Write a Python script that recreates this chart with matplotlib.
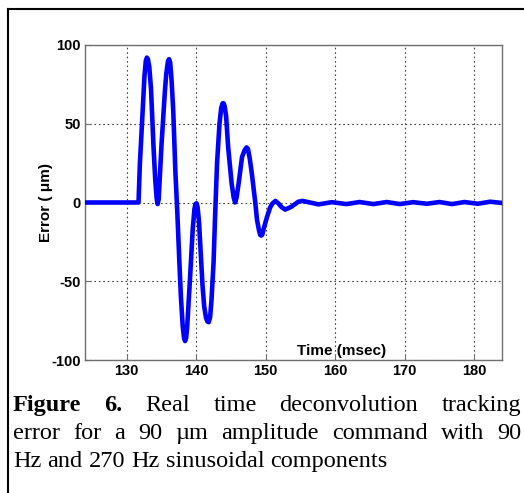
import matplotlib
matplotlib.use('Agg')
import matplotlib.pyplot as plt
from matplotlib.lines import Line2D

plt.rcParams['axes.unicode_minus'] = False

# Datos
time_ms = [124.0, 131.7, 131.9, 132.2, 132.4, 132.55, 132.75, 132.9, 133.05, 133.25,
           133.5, 133.85, 134.1, 134.3, 134.45, 134.6, 135.0, 135.5, 135.7, 135.95,
           136.1, 136.25, 136.45, 136.7, 137.0, 137.3, 137.55, 137.8, 138.05, 138.25,
           138.4, 138.55, 138.7, 139.1, 139.5, 139.75, 139.9, 140.05, 140.2, 140.4,
           140.65, 140.9, 141.15, 141.4, 141.6, 141.8, 142.0, 142.2, 142.5, 142.7,
           143.0, 143.35, 143.6, 143.8, 143.95, 144.1, 144.3, 144.6, 145.1, 145.4,
           145.6, 145.8, 146.1, 146.6, 147.0, 147.25, 147.45, 147.7, 148.0, 148.5,
           148.75, 149.05, 149.2, 149.35, 149.5, 149.75, 150.2, 150.65, 151.0, 151.4,
           151.8, 152.3, 152.8, 153.7, 154.7, 155.3, 157.6, 159.5, 161.6, 163.5,
           165.5, 167.4, 169.3, 171.2, 173.2, 175.0, 176.8, 178.6, 180.5, 182.3,
           184.0]
error_um = [0, 0, 25, 50, 67, 80, 90, 92, 91, 86,
            72, 36, 15, 3, -1, 2, 36, 71, 82, 90,
            91, 89, 78, 58, 20, -8, -35, -60, -78, -86,
            -88, -86, -79, -49, -17, -4, -1, -0.5, -3, -12,
            -32, -52, -66, -73, -75.5, -76, -73, -62, -38, -11,
            25, 50, 60, 63, 63, 61, 55, 35, 12, 3,
            0, 3, 12, 29, 33.5, 35, 34, 28, 18.6, 0,
            -11, -18, -20.5, -21, -20.5, -16, -9, -3, -0.5, 1,
            -0.5, -3, -4.5, -2.7, 0.5, 1, -1.2, 0.2, -1, 0.3,
            -1, 0.3, -1, 0.2, -0.8, 0.3, -1, 0.3, -0.8, 0.5,
            -0.3]

x_ticks = [130, 140, 150, 160, 170, 180]
y_ticks = [-100, -50, 0, 50, 100]

caption_lines = [
    [('Figure', True), ('6.', True), ('Real', False), ('time', False),
     ('deconvolution', False), ('tracking', False)],
    [('error', False), ('for', False), ('a', False), ('90', False), ('\u00b5m', False),
     ('amplitude', False), ('command', False), ('with', False), ('90', False)],
    [('Hz', False), ('and', False), ('270', False), ('Hz', False),
     ('sinusoidal', False), ('components', False)],
]

W, H = 524, 493
fig = plt.figure(figsize=(W / 100, H / 100), dpi=100)
ax = fig.add_axes([85 / W, 1 - 360 / H, 417 / W, 315 / H])

ax.plot(time_ms, error_um, color='#0000ff', linewidth=3.3,
        solid_joinstyle='round', solid_capstyle='round', zorder=3)

ax.set_xlim(124, 184)
ax.set_ylim(-100, 100)
ax.set_xticks(x_ticks)
ax.set_yticks(y_ticks)
ax.grid(True, color='#444444', linestyle=(0, (1.5, 2.5)), linewidth=0.8)

for sp in ax.spines.values():
    sp.set_color('#707070')
    sp.set_linewidth(1.0)
ax.tick_params(direction='in', length=4, color='#707070', pad=3)
for lbl in ax.get_xticklabels() + ax.get_yticklabels():
    lbl.set_fontfamily('Liberation Sans')
    lbl.set_fontweight('bold')
    lbl.set_fontsize(10.5)

fig.text(46 / W, 1 - 203 / H, 'Error ( \u03bcm)', rotation=90, ha='center', va='center',
         family='Liberation Sans', weight='bold', fontsize=11)
ax.text(0.6156, 0.03, 'Time (msec)', transform=ax.transAxes, ha='center', va='center',
        family='Liberation Sans', weight='bold', fontsize=11)

# marco de la pagina
fig.add_artist(Line2D([8 / W, 1], [1 - 9 / H, 1 - 9 / H], color='black', linewidth=1.5))
fig.add_artist(Line2D([8 / W, 8 / W], [0, 1 - 9 / H], color='black', linewidth=1.5))

# pie de figura justificado
renderer = fig.canvas.get_renderer()
x_left, x_right = 13, 521
baselines = [411, 439, 467]
cap_size = 17.5
for i, words in enumerate(caption_lines):
    texts = []
    for w, b in words:
        t = fig.text(0, 1 - baselines[i] / H, w, family='Liberation Serif',
                     weight='bold' if b else 'normal', fontsize=cap_size,
                     ha='left', va='baseline')
        texts.append(t)
    widths = [t.get_window_extent(renderer).width for t in texts]
    if i < len(caption_lines) - 1:
        gap = (x_right - x_left - sum(widths)) / (len(texts) - 1)
    else:
        gap = cap_size * 0.25 * 100 / 72
    x = x_left
    for t, wd in zip(texts, widths):
        t.set_x(x / W)
        x += wd + gap

fig.savefig('out.png', dpi=100)
